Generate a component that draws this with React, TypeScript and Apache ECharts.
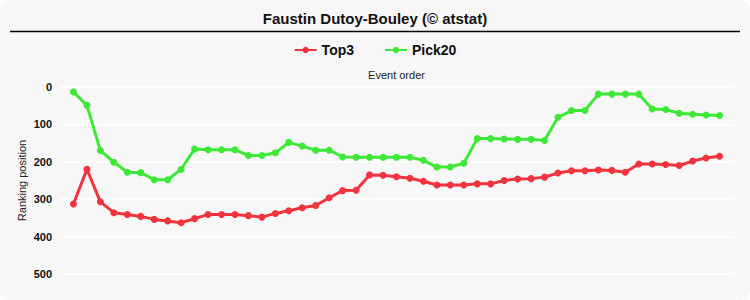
import React, { useEffect, useRef } from "react";
import * as echarts from "echarts";

const title = "Faustin Dutoy-Bouley (© atstat)";
const seriesNames = ["Top3", "Pick20"];
const top3 = [313, 220, 307, 336, 341, 346, 354, 358, 363, 352, 341, 341, 341, 344, 348, 338, 331,
  323, 317, 296, 277, 276, 235, 236, 240, 244, 252, 262, 262, 262, 259, 259,
  250, 246, 245, 241, 230, 224, 224, 222, 223, 228, 206, 206, 207, 210, 198, 190, 185];
const pick20 = [13, 49, 170, 201, 228, 229, 248, 248, 220, 166, 168, 168, 168, 183, 183, 176, 148,
  158, 169, 169, 187, 188, 188, 188, 188, 188, 196, 214, 214, 204, 138, 138,
  139, 140, 140, 143, 81, 63, 63, 19, 19, 19, 19, 59, 60, 70, 73, 75, 76];
const yTicks = [0, 100, 200, 300, 400, 500];

const font = "'Liberation Sans', Arial, sans-serif";

export default function App() {
  const ref = useRef<HTMLDivElement>(null);
  useEffect(() => {
    document.body.style.margin = "0";
    const chart = echarts.init(ref.current!, null, { renderer: "svg" });
    const toPts = (arr: number[]) => arr.map((v, i) => [i + 1, v]);
    chart.setOption({
      animation: false,
      backgroundColor: "transparent",
      textStyle: { fontFamily: font },
      title: {
        text: title,
        left: "center",
        top: 6,
        textStyle: { fontSize: 15, fontWeight: "bold", color: "#111", fontFamily: font },
      },
      graphic: [
        { type: "line", shape: { x1: 10, y1: 31.5, x2: 740, y2: 31.5 }, style: { stroke: "#000", lineWidth: 1.5 } },
      ],
      legend: {
        top: 38,
        left: "center",
        itemWidth: 22,
        itemHeight: 8,
        itemGap: 30,
        textStyle: { fontSize: 14, fontWeight: "bold", color: "#111", fontFamily: font },
        data: seriesNames,
      },
      grid: { left: 60, right: 17, top: 87, bottom: 26 },
      xAxis: {
        type: "value",
        position: "top",
        min: 0,
        max: 50,
        name: "Event order",
        nameLocation: "middle",
        nameGap: 7,
        nameTextStyle: { fontSize: 11, color: "#222", fontFamily: font },
        axisLine: { show: false },
        axisTick: { show: false },
        axisLabel: { show: false },
        splitLine: { show: false },
      },
      yAxis: {
        type: "value",
        inverse: true,
        min: yTicks[0],
        max: yTicks[yTicks.length - 1],
        interval: 100,
        name: "Ranking position",
        nameLocation: "middle",
        nameGap: 33,
        nameMoveOverlap: false,
        nameTextStyle: { fontSize: 11, color: "#222" },
        axisLine: { show: false },
        axisTick: { show: false },
        axisLabel: { fontSize: 11, fontWeight: "bold", color: "#111", margin: 8 },
        splitLine: { lineStyle: { color: "#ffffff", width: 1.5 } },
      },
      series: [
        {
          name: seriesNames[0],
          type: "line",
          data: toPts(top3),
          color: "#f0333d",
          symbol: "circle",
          symbolSize: 7,
          lineStyle: { width: 3 },
        },
        {
          name: seriesNames[1],
          type: "line",
          data: toPts(pick20),
          color: "#3ee836",
          symbol: "circle",
          symbolSize: 7,
          lineStyle: { width: 3 },
        },
      ],
    });
    return () => chart.dispose();
  }, []);
  return (
    <div
      ref={ref}
      style={{ width: 750, height: 300, background: "#f7f7f7", borderRadius: 10 }}
    />
  );
}
